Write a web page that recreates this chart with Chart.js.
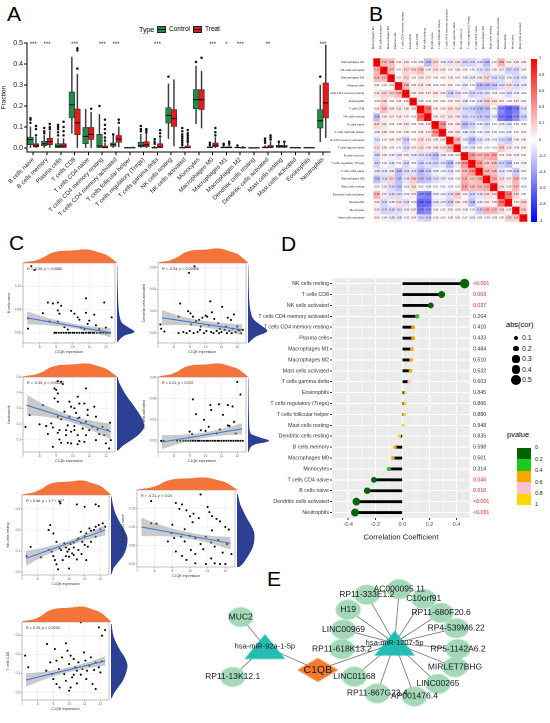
<!DOCTYPE html>
<html>
<head>
<meta charset="utf-8">
<script src="https://cdn.jsdelivr.net/npm/chart.js@4.4.1/dist/chart.umd.min.js"></script>
<style>
html,body{margin:0;padding:0;background:#fff;}
body{width:550px;height:723px;position:relative;overflow:hidden;font-family:"Liberation Sans",Arial,sans-serif;color:#000;}
canvas{position:absolute;}
.t{position:absolute;white-space:nowrap;line-height:1;}
.big{font-size:21px;}
</style>
</head>
<body>
<div class="t big" style="left:7px;top:3px">A</div>
<div class="t big" style="left:369px;top:3px">B</div>
<div class="t big" style="left:9px;top:232px">C</div>
<div class="t big" style="left:281px;top:233px">D</div>
<div class="t big" style="left:267px;top:568px">E</div>

<div class="t" style="left:139px;top:25.5px;font-size:7px">Type</div>
<div style="position:absolute;left:157px;top:25.5px;width:9px;height:7px;background:#228b45;border:0.6px solid #222;box-sizing:border-box"><div style="position:absolute;left:0;right:0;top:2.6px;height:1px;background:#111"></div></div>
<div class="t" style="left:169px;top:26px;font-size:6.5px">Control</div>
<div style="position:absolute;left:193px;top:25.5px;width:9px;height:7px;background:#e8191c;border:0.6px solid #222;box-sizing:border-box"><div style="position:absolute;left:0;right:0;top:2.6px;height:1px;background:#111"></div></div>
<div class="t" style="left:205px;top:26px;font-size:6.5px">Treat</div>

<div class="t" style="left:506px;top:321px;font-size:7.5px">abs(cor)</div>
<div class="t" style="left:507px;top:431px;font-size:7.5px">pvalue</div>
<div id="legD"></div>

<script>
// ---------------- DATA ----------------
// Panel A
const cellTypesA = ['B cells naive','B cells memory','Plasma cells','T cells CD8','T cells CD4 naive','T cells CD4 memory resting','T cells CD4 memory activated','T cells follicular helper','T cells regulatory (Tregs)','T cells gamma delta','NK cells resting','NK cells activated','Monocytes','Macrophages M0','Macrophages M1','Macrophages M2','Dendritic cells resting','Dendritic cells activated','Mast cells resting','Mast cells activated','Eosinophils','Neutrophils'];
// [min, q1, median, q3, max]
const controlStats = [
 [0,0.016,0.04,0.052,0.10],[0,0.011,0.02,0.032,0.06],[0,0,0.008,0.02,0.045],[0.07,0.143,0.206,0.267,0.433],
 [0,0.02,0.055,0.098,0.185],[0,0,0.01,0.065,0.16],[0,0.008,0.015,0.024,0.06],[0,0,0.001,0.002,0.004],
 [0,0.005,0.012,0.027,0.065],[0,0,0.001,0.003,0.008],[0.045,0.119,0.155,0.192,0.305],[0,0,0.001,0.003,0.008],
 [0.115,0.187,0.23,0.278,0.39],[0,0,0.003,0.006,0.012],[0,0,0.002,0.005,0.01],[0,0,0.002,0.004,0.008],
 [0,0,0,0.001,0.002],[0,0,0.002,0.005,0.012],[0,0.003,0.008,0.013,0.025],[0,0,0.001,0.002,0.004],
 [0,0,0.001,0.002,0.004],[0.03,0.095,0.13,0.183,0.30]
];
const treatStats = [
 [0,0.005,0.01,0.02,0.05],[0,0.016,0.03,0.046,0.08],[0,0.002,0.01,0.02,0.045],[0,0.063,0.12,0.186,0.35],
 [0,0.04,0.065,0.098,0.17],[0,0,0.002,0.01,0.025],[0.005,0.028,0.042,0.06,0.10],[0,0,0.001,0.002,0.005],
 [0,0.005,0.015,0.03,0.07],[0,0,0.005,0.02,0.045],[0.01,0.103,0.14,0.183,0.325],[0,0,0.002,0.01,0.025],
 [0.095,0.183,0.23,0.278,0.365],[0,0.005,0.013,0.024,0.05],[0,0,0.002,0.006,0.014],[0,0,0.001,0.004,0.008],
 [0,0,0,0.001,0.002],[0,0,0.004,0.012,0.03],[0,0.003,0.008,0.012,0.022],[0,0,0.001,0.002,0.004],
 [0,0,0.001,0.002,0.004],[0.05,0.143,0.215,0.31,0.49]
];
const controlOutliers = [
 [0.12,0.135,0.143],[0.07,0.08,0.095],[0.06,0.075,0.09,0.1,0.11],[],[],[0.2],[0.065],[],
 [0.08,0.09,0.105],[0.02,0.03,0.042],[0.34],[0.015,0.025,0.035,0.045,0.055,0.065,0.08,0.095],
 [0.41],[0.015,0.025],[0.015,0.02],[0.012],[],[0.025,0.035,0.045],[0.03],[],[],[0.34]
];
const treatOutliers = [
 [0.06,0.09,0.105],[0.09,0.1,0.115],[0.06,0.08,0.1,0.125],[0.378,0.465,0.475],[0.187],
 [0.035,0.05,0.07,0.09,0.11,0.135],[0.12,0.135],[],[0.075,0.085,0.09],[0.055,0.07,0.085],[],
 [0.03,0.04,0.05,0.06,0.07,0.085],[0.43],[0.06,0.075,0.095],[0.02,0.03],[],[],[0.04,0.05,0.06],[0.03],[],[],[]
];
const sigA = ['***','***','','***','','***','***','','','***','','','','***','*','***','','**','','','','***'];
const yTicksA = [0,0.1,0.2,0.3,0.4,0.5];

// Panel B
const immuneB = ['Macrophages M1','NK cells activated','Macrophages M2','Plasma cells','T cells CD4 memory resting','Eosinophils','T cells CD8','NK cells resting','B cells naive','T cells follicular helper','T cells CD4 memory activated','T cells gamma delta','B cells memory','T cells regulatory (Tregs)','T cells CD4 naive','Macrophages M0','Mast cells resting','Dendritic cells activated','Neutrophils','Monocytes','Mast cells activated'];
const corUpper = [
 [0.27,0.26,0.04,0.10,-0.03,0.06,-0.26,0.17,-0.06,-0.11,0.12,-0.16,-0.17,-0.08,-0.26,0.03,0.30,0.06,0.09,0.06],
 [0.27,0.01,0.17,0.16,0.26,0.06,0.11,0.08,0.02,0.06,0.05,0.02,-0.10,-0.13,0.05,0.07,-0.17,-0.17,0.04],
 [0.01,0.17,0.02,0.09,0.07,0.03,0.02,0.06,0.03,-0.05,-0.09,0.08,0.17,-0.13,-0.13,-0.05,-0.15,-0.08],
 [0.28,0.06,0.11,0.08,-0.02,0.03,0.07,0.01,-0.10,0.01,-0.26,-0.25,-0.22,-0.13,0.13,-0.13,-0.08],
 [0.06,0.08,0.07,0.10,0.06,-0.19,-0.13,0.05,-0.17,-0.13,-0.10,-0.03,-0.04,-0.13,-0.06,-0.02],
 [0.05,-0.01,0.03,0.02,0.03,0.07,-0.08,0.03,-0.11,0.20,0.13,0.07,-0.03,0.07,0.04],
 [0.55,0.06,0.06,0.15,0.13,-0.13,-0.18,-0.28,-0.25,0.02,-0.45,-0.60,-0.50,-0.13],
 [0.05,0.07,0.10,0.08,-0.15,-0.12,-0.20,-0.22,-0.06,-0.50,-0.58,-0.44,-0.18],
 [0.44,0.06,0.09,-0.26,-0.17,-0.05,-0.13,0.01,-0.06,-0.10,0.03,-0.02],
 [0.05,0.10,-0.08,-0.10,-0.03,-0.07,0.03,-0.04,-0.07,0.02,0.03],
 [0.28,-0.05,-0.28,-0.12,-0.06,-0.03,-0.13,-0.20,0.06,0.05],
 [-0.03,-0.08,0.03,-0.01,0.01,0.20,0.10,-0.04,0.05],
 [0.40,0.27,0.31,0.37,0.04,0.06,-0.05,0.02],
 [0.40,0.21,0.25,-0.17,-0.25,0.03,-0.05],
 [0.28,0.26,-0.10,-0.05,-0.20,0.04],
 [0.32,0.13,0.07,0.30,-0.03],
 [0.10,0.05,0.27,-0.03],
 [0.52,0.15,0.00],
 [0.04,0.18],
 [0.20]
];
const colorbarTicks = [1,0.8,0.6,0.4,0.2,0,-0.2,-0.4,-0.6,-0.8,-1];

// Panel C
const xTicksC = [7,8,9,10,11,12];
const bandX = [7.25,8.5,9.8,11.05,12.3];
const topDensX = [7.0,7.3,7.7,8.2,8.6,9.1,9.6,10.1,10.6,10.9,11.4,11.9,12.35,12.55];
const topDensD = [0,0.08,0.15,0.38,0.68,0.86,0.9,0.93,1.0,0.98,0.8,0.6,0.2,0];

const ptsBNaive = [[7.5,0.143],[7.7,0.135],[7.3,0.031],[7.3,0.009],[8.2,0.042],[8.5,0.065],[8.8,0.063],[9.1,0.065],[9.3,0.058],[9.1,0.048],[9.2,0.041],[8.6,0.024],[9.1,0.024],[9.9,0.047],[10.1,0.041],[10.3,0.033],[10.4,0.028],[10.8,0.074],[10.8,0.043],[11.0,0.026],[11.3,0.039],[11.4,0.016],[11.9,0.065],[12.0,0.011],[12.35,0.033],[9.7,0.007],[10.5,0.011],[10.7,0.007],[9.5,0.012],[10.9,0.019],[11.6,0.008],
 [8.9,0],[9.0,0],[9.15,0],[9.3,0],[9.45,0],[9.6,0],[9.75,0],[9.85,0],[10.0,0],[10.1,0],[10.25,0],[10.4,0],[10.55,0],[10.65,0],[10.8,0],[10.95,0],[11.05,0],[11.2,0],[11.3,0],[11.45,0],[11.6,0],[11.7,0],[11.85,0],[12.0,0],[12.1,0],[12.25,0]];
const fitBNaive = [[7.25,0.032],[12.3,0.0]];
const hiBNaive = [0.046,0.032,0.021,0.014,0.010];
const loBNaive = [0.018,0.016,0.011,0.002,-0.010];
const densBNaiveY = [-0.02,-0.005,0.002,0.01,0.02,0.035,0.05,0.07,0.09,0.12,0.145];
const densBNaiveD = [0,0.45,1.0,0.7,0.3,0.14,0.08,0.05,0.03,0.01,0];
const yTicksBNaive = [0,0.05,0.10];

const ptsDCAct = [[8.95,0.055],[9.3,0.061],[7.15,0.008],[7.2,0.004],[7.4,0.0015],[8.4,0.027],[8.3,0.015],[8.9,0.02],[9.05,0.018],[9.2,0.015],[9.4,0.011],[9.6,0.012],[9.8,0.014],[10.0,0.016],[10.1,0.015],[10.3,0.029],[10.4,0.019],[10.55,0.013],[10.8,0.009],[11.05,0.024],[11.4,0.014],[11.6,0.012],[11.8,0.017],[12.0,0.006],[12.15,0.0025],[12.35,0.003],[9.1,0.008],[9.7,0.006],[10.2,0.007],[10.9,0.004],[11.3,0.006],[11.7,0.004],
 [8.3,0],[8.6,0.001],[8.8,0],[9.0,0.002],[9.25,0],[9.5,0.001],[9.65,0.003],[9.9,0],[10.05,0.002],[10.35,0.001],[10.5,0],[10.7,0.002],[10.85,0],[11.0,0.001],[11.2,0.003],[11.35,0],[11.5,0.002],[11.65,0],[11.9,0.001],[12.05,0.003],[12.25,0]];
const fitDCAct = [[7.25,0.014],[12.3,0.003]];
const hiDCAct = [0.021,0.0153,0.0115,0.0093,0.008];
const loDCAct = [0.007,0.0073,0.0055,0.0023,-0.002];
const densDCActY = [-0.009,-0.003,0.002,0.006,0.012,0.02,0.03,0.045,0.062];
const densDCActD = [0,0.4,1.0,0.75,0.3,0.12,0.05,0.02,0];
const yTicksDCAct = [0,0.02,0.04,0.06];

const ptsNeut = [[8.9,0.427],[9.0,0.417],[9.1,0.474],[9.3,0.47],[9.4,0.455],[9.1,0.395],[8.9,0.363],[9.1,0.342],[8.7,0.203],[8.8,0.177],[9.1,0.246],[9.3,0.229],[9.2,0.16],[9.1,0.143],[9.2,0.10],[9.3,0.079],[8.8,0.053],[9.8,0.342],[9.9,0.31],[10.1,0.30],[9.8,0.246],[9.7,0.19],[9.9,0.15],[9.7,0.079],[9.9,0.075],[10.3,0.374],[10.4,0.33],[10.2,0.27],[10.4,0.24],[10.5,0.207],[10.1,0.16],[10.3,0.128],[10.4,0.09],[10.3,0.07],[10.8,0.427],[10.7,0.33],[10.9,0.29],[10.9,0.256],[10.8,0.214],[11.0,0.16],[10.8,0.128],[10.7,0.085],[11.3,0.31],[11.4,0.246],[11.2,0.182],[11.5,0.165],[11.6,0.135],[11.4,0.096],[11.8,0.182],[11.9,0.128],[12.0,0.075],[12.1,0.16],[12.2,0.043],[12.25,0.207],[12.3,0.096],[8.0,0.197],[8.2,0.32],[8.4,0.186],[8.5,0.135],[7.15,0.18],[7.4,0.256],[9.6,0.16],[10.6,0.17],[10.1,0.186],[10.3,0.235],[9.5,0.278],[9.6,0.128]];
const fitNeut = [[7.2,0.32],[12.3,0.15]];
const hiNeut = [0.385,0.313,0.257,0.223,0.2];
const loNeut = [0.255,0.243,0.213,0.163,0.1];
const densNeutY = [0.03,0.06,0.1,0.14,0.18,0.22,0.27,0.32,0.37,0.42,0.47,0.5];
const densNeutD = [0.03,0.2,0.55,0.85,1.0,0.97,0.8,0.6,0.38,0.2,0.06,0.01];
const yTicksNeut = [0.1,0.2,0.3,0.4,0.5];

const ptsNKAct = [[12.0,0.084],[12.2,0.066],[9.2,0.059],[9.4,0.038],[10.3,0.051],[10.35,0.044],[10.85,0.052],[11.4,0.051],[11.7,0.049],[11.1,0.037],[11.4,0.022],[11.5,0.021],[9.9,0.03],[10.2,0.02],[9.0,0.013],[9.15,0.0095],[9.7,0.015],[10.0,0.014],[10.7,0.0105],[10.9,0.016],[11.8,0.027],[11.9,0.0105],[7.2,0],[7.35,0],
 [8.2,0],[8.4,0],[8.6,0],[8.75,0],[8.9,0],[9.05,0],[9.2,0],[9.35,0],[9.5,0],[9.6,0],[9.75,0],[9.9,0],[10.05,0],[10.15,0],[10.3,0],[10.45,0],[10.6,0],[10.75,0],[10.85,0],[11.0,0],[11.15,0],[11.3,0],[11.45,0],[11.6,0],[11.75,0],[11.9,0],[12.05,0],[12.2,0],[12.35,0]];
const fitNKAct = [[7.2,-0.002],[12.3,0.017]];
const hiNKAct = [0.008,0.0088,0.0115,0.0173,0.025];
const loNKAct = [-0.012,-0.0032,0.0035,0.0073,0.009];
const densNKActY = [-0.016,-0.005,0.0,0.004,0.01,0.02,0.035,0.05,0.07,0.09];
const densNKActD = [0,0.3,1.0,0.6,0.12,0.05,0.03,0.02,0.01,0];
const yTicksNKAct = [0,0.03,0.06,0.09];

const ptsNKRest = [[9.4,0.335],[9.45,0.327],[10.5,0.322],[11.7,0.322],[11.9,0.314],[11.0,0.311],[7.3,0.076],[7.55,0.12],[8.2,0.07],[8.7,0.2],[8.8,0.224],[9.0,0.184],[9.0,0.076],[9.1,0.057],[9.2,0.037],[9.3,0.013],[9.2,0.144],[9.4,0.113],[9.5,0.105],[9.7,0.137],[9.8,0.117],[9.9,0.097],[10.0,0.108],[10.1,0.133],[10.3,0.14],[10.3,0.117],[10.5,0.152],[10.6,0.16],[10.3,0.081],[10.5,0.06],[10.0,0.017],[10.75,0.192],[10.85,0.144],[11.0,0.171],[11.1,0.184],[11.2,0.121],[11.1,0.057],[11.3,0.208],[11.4,0.197],[11.6,0.2],[11.7,0.216],[11.9,0.224],[12.0,0.203],[12.15,0.232],[12.3,0.216],[10.0,0.073],[9.6,0.057],[8.9,0.097],[10.6,0.105],[10.8,0.086],[11.4,0.144],[11.7,0.168],[8.7,0.105],[9.8,0.076],[10.2,0.089],[11.0,0.129]];
const fitNKRest = [[7.25,0.065],[12.3,0.20]];
const hiNKRest = [0.1,0.119,0.145,0.181,0.225];
const loNKRest = [0.03,0.079,0.119,0.151,0.175];
const densNKRestY = [-0.01,0.02,0.05,0.08,0.12,0.16,0.2,0.24,0.28,0.32,0.36];
const densNKRestD = [0.02,0.15,0.45,0.75,0.95,1.0,0.8,0.5,0.25,0.1,0.01];
const yTicksNKRest = [0,0.1,0.2,0.3];

const ptsCD4Naive = [[7.8,0.17],[10.6,0.188],[8.1,0.109],[9.0,0.106],[9.2,0.165],[9.4,0.149],[9.55,0.161],[9.8,0.145],[10.0,0.129],[10.2,0.136],[10.5,0.124],[11.0,0.154],[11.1,0.14],[11.25,0.129],[11.5,0.122],[11.7,0.115],[12.0,0.1],[12.2,0.093],[8.95,0.084],[9.1,0.07],[9.5,0.074],[9.7,0.061],[10.0,0.076],[10.3,0.07],[10.6,0.054],[10.9,0.074],[11.2,0.058],[11.4,0.047],[11.6,0.065],[11.85,0.031],[12.1,0.054],[12.35,0.027],[9.2,0.034],[9.55,0.022],[9.8,0.011],[10.05,0.038],[10.3,0.002],[10.9,0],[11.2,0.015],[11.4,0.002],[11.7,0],[12.0,0],[7.8,0.11],[8.75,0.061],[10.3,0.027],[10.75,0.04],[11.25,0.091],[9.7,0.094],[10.15,0.113]];
const fitCD4Naive = [[7.25,0.10],[12.3,0.056]];
const hiCD4Naive = [0.125,0.103,0.087,0.077,0.073];
const loCD4Naive = [0.075,0.075,0.069,0.057,0.039];
const densCD4NaiveY = [-0.008,0.0,0.02,0.04,0.06,0.08,0.1,0.12,0.14,0.16,0.19];
const densCD4NaiveD = [0.1,0.3,0.6,0.85,0.98,1.0,0.85,0.6,0.38,0.18,0.02];
const yTicksCD4Naive = [0,0.05,0.10,0.15];

const ptsCD8 = [[10.75,0.368],[11.9,0.342],[12.3,0.328],[12.1,0.298],[7.2,0.193],[7.4,0.132],[8.6,0.254],[8.8,0.158],[9.1,0.228],[9.2,0.167],[9.8,0.258],[9.9,0.219],[10.1,0.193],[10.0,0.149],[10.3,0.175],[10.4,0.132],[10.5,0.114],[10.6,0.158],[10.95,0.21],[11.05,0.167],[11.3,0.14],[11.4,0.184],[11.6,0.118],[11.7,0.158],[11.9,0.132],[12.0,0.105],[12.1,0.163],[8.9,0.096],[9.0,0.07],[9.2,0.044],[9.4,0.026],[9.7,0.096],[9.8,0.061],[10.0,0.009],[10.2,0.079],[10.5,0.047],[10.75,0.093],[11.1,0.07],[11.5,0.044],[11.7,0.018],[9.35,0.123],[9.55,0.184],[10.85,0.123],[11.15,0.114],[10.3,0.093],[8.55,0.114],[10.1,0.026]];
const fitCD8 = [[7.25,0.065],[12.3,0.165]];
const hiCD8 = [0.1,0.11,0.128,0.155,0.19];
const loCD8 = [0.03,0.07,0.102,0.125,0.14];
const densCD8Y = [-0.03,0.0,0.03,0.06,0.1,0.14,0.18,0.22,0.26,0.3,0.36];
const densCD8D = [0.02,0.2,0.45,0.7,0.9,1.0,0.85,0.55,0.3,0.12,0.02];
const yTicksCD8 = [0,0.1,0.2,0.3];

// Panel D
const cellsD = ['NK cells resting','T cells CD8','NK cells activated','T cells CD4 memory activated','T cells CD4 memory resting','Plasma cells','Macrophages M1','Macrophages M2','Mast cells activated','T cells gamma delta','Eosinophils','T cells regulatory (Tregs)','T cells follicular helper','Mast cells resting','Dendritic cells resting','B cells memory','Macrophages M0','Monocytes','T cells CD4 naive','B cells naive','Dendritic cells activated','Neutrophils'];
const corD = [0.46,0.29,0.21,0.11,0.08,0.08,0.07,0.065,0.06,0.05,0.02,0.017,0.015,0.006,-0.02,-0.055,-0.07,-0.10,-0.21,-0.26,-0.34,-0.35];
const pNumD = [0.0005,0.003,0.037,0.264,0.410,0.433,0.484,0.510,0.532,0.603,0.845,0.866,0.880,0.948,0.835,0.598,0.501,0.314,0.040,0.010,0.0005,0.0005];
const pLabelsD = ['<0.001','0.003','0.037','0.264','0.410','0.433','0.484','0.510','0.532','0.603','0.845','0.866','0.880','0.948','0.835','0.598','0.501','0.314','0.040','0.010','<0.001','<0.001'];
const xTicksD = [-0.4,-0.2,0,0.2,0.4];
const xMinorD = [-0.5,-0.3,-0.1,0.1,0.3,0.5];
const sizeLegendD = [0.1,0.2,0.3,0.4,0.5];
const pBreaksD = [0,0.2,0.4,0.6,0.8,1];
const pColorsD = ['#006400','#1ec81e','#ffa500','#ffc0cb','#ffd700'];

// Panel E
const netNodes = ['MUC2','hsa-miR-92a-1-5p','RP11-13K12.1','C1QB','hsa-miR-1207-5p','AC000095.11','RP11-333E1.2','C10orf91','H19','RP11-680F20.6','LINC00969','RP4-539M6.22','RP11-618K13.2','RP5-1142A6.2','MIRLET7BHG','LINC01168','LINC00265','RP11-867G23.4','AP001476.4'];
const netKind = ['lnc','mir','lnc','gene','mir','lnc','lnc','lnc','lnc','lnc','lnc','lnc','lnc','lnc','lnc','lnc','lnc','lnc','lnc'];
const netX = [46,72,37.3,129,211.7,216.7,181.7,243,161.7,261.7,156.7,278,155,280,276.7,168.3,258.3,193,233];
const netY = [46.7,82,118.3,110,78,13.3,20,25,38,41.7,61.7,60,85,85,106.7,118,126.7,138,141.7];
const netEdges = [[0,1],[2,1],[1,3],[3,4],[4,5],[4,6],[4,7],[4,8],[4,9],[4,10],[4,11],[4,12],[4,13],[4,14],[4,15],[4,16],[4,17],[4,18]];

// ---------------- SETUP ----------------
const FF = '"Liberation Sans", Arial, sans-serif';
Chart.defaults.font.family = FF;
Chart.defaults.color = '#333';
Chart.defaults.animation = false;
Chart.defaults.responsive = false;
Chart.defaults.devicePixelRatio = 2;
Chart.defaults.events = [];
Chart.defaults.plugins.legend.display = false;
Chart.defaults.plugins.tooltip.enabled = false;

function mk(l, t, w, h) {
  const c = document.createElement('canvas');
  w = Math.round(w); h = Math.round(h);
  c.width = w; c.height = h;
  c.style.left = l + 'px'; c.style.top = t + 'px';
  c.style.width = w + 'px'; c.style.height = h + 'px';
  document.body.appendChild(c);
  return c;
}
function fixedTicks(arr) { return s => { s.ticks = arr.map(v => ({value: v})); }; }

// ---------------- PANEL A ----------------
function boxSets(stats, outs, off, color) {
  return [
    {type:'bar', data: stats.map((s,i)=>({x:i+off, y:[s[0],s[4]]})), backgroundColor:'#3a3a3a', barThickness:0.8, grouped:false, order:3},
    {type:'bar', data: stats.map((s,i)=>({x:i+off, y:[s[1],s[3]]})), backgroundColor:color, borderColor:'#2a2a2a', borderWidth:0.6, borderSkipped:false, barThickness:5.6, grouped:false, order:2},
    {type:'scatter', data: stats.map((s,i)=>({x:i+off, y:s[2]})), pointStyle:'line', pointRadius:2.8, borderColor:'#111', borderWidth:1.1, order:1},
    {type:'scatter', data: outs.flatMap((o,i)=>o.map(v=>({x:i+off, y:v}))), pointRadius:1.25, backgroundColor:'#111', borderWidth:0, order:0}
  ];
}
new Chart(mk(0, 36, 335, 182), {
  type: 'bar',
  data: {datasets: [...boxSets(controlStats, controlOutliers, -0.2, '#228b45'), ...boxSets(treatStats, treatOutliers, 0.2, '#e8191c')]},
  options: {
    layout: {padding: {top: 7, right: 5, left: 0, bottom: 0}},
    scales: {
      x: {type:'linear', min:-0.45, max:21.5, offset:false,
          afterBuildTicks: fixedTicks(cellTypesA.map((_, i) => i)),
          ticks: {autoSkip:false, minRotation:45, maxRotation:45, font:{size:6}, color:'#222', padding:1, callback: v => cellTypesA[Math.round(v)]},
          grid: {offset:false, drawOnChartArea:false, drawTicks:true, tickLength:3, color:'#000'},
          border: {display:true, color:'#000', width:1},
          afterFit: s => { s.height = 65.8; }},
      y: {type:'linear', min:-0.02, max:0.5,
          afterBuildTicks: fixedTicks(yTicksA),
          ticks: {font:{size:7}, color:'#222', padding:1, callback: v => v.toFixed(1)},
          grid: {drawOnChartArea:false, drawTicks:true, tickLength:3, color:'#000'},
          border: {display:true, color:'#000', width:1},
          title: {display:true, text:'Fraction', font:{size:6.5}, color:'#111', padding:0},
          afterFit: s => { s.width = 27; }}
    }
  },
  plugins: [{id:'stars', afterDatasetsDraw(c) {
    const ctx = c.ctx, xs = c.scales.x, ys = c.scales.y;
    ctx.save(); ctx.fillStyle = '#222'; ctx.font = '6px ' + FF; ctx.textAlign = 'center'; ctx.textBaseline = 'middle';
    sigA.forEach((s, i) => { if (s) ctx.fillText(s, xs.getPixelForValue(i), ys.getPixelForValue(0.5) + 1.5); });
    ctx.restore();
  }}]
});

// ---------------- PANEL B ----------------
const corM = immuneB.map((_, i) => immuneB.map((_, j) => i === j ? 1 : (i < j ? corUpper[i][j - i - 1] : corUpper[j][i - j - 1])));
function corColor(v) {
  if (v >= 0) { const g = Math.round(255 * (1 - v)); return `rgb(255,${g},${g})`; }
  const g = Math.round(255 * (1 + v)); return `rgb(${g},${g},255)`;
}
new Chart(mk(330, 0, 200, 225), {
  type: 'bar',
  data: {labels: immuneB, datasets: immuneB.map((_, r) => ({
    data: immuneB.map(() => [r, r + 1]), backgroundColor: corM[r].map(corColor),
    barPercentage: 1, categoryPercentage: 1, grouped: false, borderWidth: 0, inflateAmount: 0.5
  }))},
  options: {
    layout: {padding: {top: 0, right: 2.7, bottom: 3.3, left: 0}},
    scales: {
      x: {type:'category', position:'top', offset:true, grid:{display:false}, border:{display:false},
          ticks:{font:{size:3}, color:'#222', autoSkip:false, minRotation:90, maxRotation:90, padding:1},
          afterFit: s => { s.height = 58.3; }},
      y: {type:'linear', min:0, max:immuneB.length, reverse:true,
          afterBuildTicks: fixedTicks(immuneB.map((_, i) => i + 0.5)),
          ticks:{font:{size:3}, color:'#222', autoSkip:false, padding:1, callback: (v, i) => immuneB[i]},
          grid:{display:false}, border:{display:false},
          afterFit: s => { s.width = 43.3; }}
    }
  },
  plugins: [{id:'cellText', afterDatasetsDraw(c) {
    const ctx = c.ctx; ctx.save(); ctx.fillStyle = '#222'; ctx.font = '2.5px ' + FF; ctx.textAlign = 'center'; ctx.textBaseline = 'middle';
    c.data.datasets.forEach((ds, r) => c.getDatasetMeta(r).data.forEach((el, col) => ctx.fillText(corM[r][col].toFixed(2), el.x, (el.y + el.base) / 2)));
    ctx.restore();
  }}]
});
(function colorbar() {
  const top = 59.3, h = 162.4;
  const bar = document.createElement('div');
  bar.style.cssText = `position:absolute;left:530.7px;top:${top}px;width:6px;height:${h}px;background:linear-gradient(to bottom,#ff0000,#ffffff,#0000ff)`;
  document.body.appendChild(bar);
  colorbarTicks.forEach((v, i) => {
    const d = document.createElement('div'); d.className = 't';
    d.style.cssText += `left:539px;top:${top + i * h / (colorbarTicks.length - 1) - 2}px;font-size:3.8px;color:#222`;
    d.textContent = String(v); document.body.appendChild(d);
  });
})();

// ---------------- PANEL C ----------------
const cPanels = [
  {pts:ptsBNaive, fit:fitBNaive, hi:hiBNaive, lo:loBNaive, dy:densBNaiveY, dd:densBNaiveD, yTicks:yTicksBNaive, dec:2, yMin:-0.022, yMax:0.15, yLabel:'B cells naive', stat:'R = -0.26, p = 0.0065', g:{L:23,T:263,R:117,B:343,th:14,rw:18}},
  {pts:ptsDCAct, fit:fitDCAct, hi:hiDCAct, lo:loDCAct, dy:densDCActY, dd:densDCActD, yTicks:yTicksDCAct, dec:2, yMin:-0.009, yMax:0.064, yLabel:'Dendritic cells activated', stat:'R = -0.34, p = 0.00056', g:{L:158,T:263,R:248,B:343,th:15,rw:20}},
  {pts:ptsNeut, fit:fitNeut, hi:hiNeut, lo:loNeut, dy:densNeutY, dd:densNeutD, yTicks:yTicksNeut, dec:1, yMin:0.02, yMax:0.5, yLabel:'Neutrophils', stat:'R = -0.35, p = 0.00037', g:{L:23,T:377,R:117,B:452,th:14,rw:28}},
  {pts:ptsNKAct, fit:fitNKAct, hi:hiNKAct, lo:loNKAct, dy:densNKActY, dd:densNKActD, yTicks:yTicksNKAct, dec:2, yMin:-0.016, yMax:0.091, yLabel:'NK cells activated', stat:'R = 0.21, p = 0.037', g:{L:158,T:377,R:248,B:452,th:14,rw:22}},
  {pts:ptsNKRest, fit:fitNKRest, hi:hiNKRest, lo:loNKRest, dy:densNKRestY, dd:densNKRestD, yTicks:yTicksNKRest, dec:1, yMin:-0.014, yMax:0.367, yLabel:'NK cells resting', stat:'R = 0.46, p = 1.7 × 10⁻⁶', g:{L:22,T:495,R:111,B:575,th:15,rw:17}},
  {pts:ptsCD4Naive, fit:fitCD4Naive, hi:hiCD4Naive, lo:loCD4Naive, dy:densCD4NaiveY, dd:densCD4NaiveD, yTicks:yTicksCD4Naive, dec:2, yMin:-0.008, yMax:0.2, yLabel:'T cells CD4 naive', stat:'R = -0.21, p = 0.04', g:{L:137,T:490,R:237,B:567,th:13,rw:18}},
  {pts:ptsCD8, fit:fitCD8, hi:hiCD8, lo:loCD8, dy:densCD8Y, dd:densCD8D, yTicks:yTicksCD8, dec:1, yMin:-0.04, yMax:0.37, yLabel:'T cells CD8', stat:'R = 0.29, p = 0.0035', g:{L:22,T:622,R:111,B:700,th:16,rw:17}}
];
const CLEAR = 'rgba(0,0,0,0)';
function scatterPanel(p) {
  const g = p.g, yw = 16, xh = 11, pt = 4, pr = 2;
  const gridC = {color:'#ebebeb', lineWidth:0.5, tickLength:1.5, tickColor:'#777'};
  new Chart(mk(g.L - yw, g.T - pt, yw + (g.R - g.L) + pr, pt + (g.B - g.T) + xh), {
    type: 'scatter',
    data: {datasets: [
      {data: p.pts.map(q => ({x:q[0], y:q[1]})), pointRadius:1.05, backgroundColor:'#000', borderWidth:0, order:2},
      {type:'line', data: bandX.map((x, i) => ({x, y:p.hi[i]})), borderColor:CLEAR, borderWidth:0.1, pointRadius:0, fill:'+1', backgroundColor:'rgba(150,150,150,0.5)', tension:0.4, order:1},
      {type:'line', data: bandX.map((x, i) => ({x, y:p.lo[i]})), borderColor:CLEAR, borderWidth:0.1, pointRadius:0, fill:false, tension:0.4, order:1},
      {type:'line', data: p.fit.map(q => ({x:q[0], y:q[1]})), borderColor:'#3b70e0', borderWidth:1, pointRadius:0, fill:false, order:0}
    ]},
    options: {
      layout: {padding: {top:pt, right:pr, left:0, bottom:0}},
      scales: {
        x: {type:'linear', min:7, max:12.55, afterBuildTicks: fixedTicks(xTicksC),
            ticks:{font:{size:3.2}, color:'#555', padding:0.5, maxRotation:0, autoSkip:false},
            grid: gridC, border:{display:false},
            title:{display:true, text:'C1QB expression', font:{size:3.6}, color:'#333', padding:0},
            afterFit: s => { s.height = xh; }},
        y: {type:'linear', min:p.yMin, max:p.yMax, afterBuildTicks: fixedTicks(p.yTicks),
            ticks:{font:{size:3.2}, color:'#555', padding:0.5, autoSkip:false, callback: v => v.toFixed(p.dec)},
            grid: gridC, border:{display:false},
            title:{display:true, text:p.yLabel, font:{size:3.6}, color:'#333', padding:0},
            afterFit: s => { s.width = yw; }}
      }
    },
    plugins: [{id:'frame', afterDatasetsDraw(c) {
      const a = c.chartArea, ctx = c.ctx; ctx.save();
      ctx.strokeStyle = '#9a9a9a'; ctx.lineWidth = 0.6; ctx.strokeRect(a.left, a.top, a.right - a.left, a.bottom - a.top);
      ctx.fillStyle = '#222'; ctx.font = '3.7px ' + FF; ctx.textBaseline = 'top'; ctx.fillText(p.stat, a.left + 4, a.top + 4);
      ctx.restore();
    }}]
  });
  // top marginal density (C1QB expression)
  new Chart(mk(g.L, g.T - g.th, g.R - g.L, g.th), {
    type: 'line',
    data: {datasets: [{data: topDensX.map((x, i) => ({x, y:topDensD[i]})), borderColor:'#f2703a', borderWidth:0.6, backgroundColor:'#f4743b', fill:'origin', pointRadius:0, cubicInterpolationMode:'monotone'}]},
    options: {layout:{padding:0}, scales:{x:{type:'linear', min:7, max:12.55, display:false}, y:{type:'linear', min:0, max:1.05, display:false}}}
  });
  // right marginal density (immune cell fraction)
  new Chart(mk(g.R, g.T, g.rw, g.B - g.T), {
    type: 'line',
    data: {datasets: [{data: p.dy.map((y, i) => ({x:p.dd[i], y})), borderColor:'#263a8c', borderWidth:0.6, backgroundColor:'#2b3f93', fill:'origin', pointRadius:0, cubicInterpolationMode:'monotone'}]},
    options: {indexAxis:'y', layout:{padding:0}, scales:{x:{type:'linear', min:0, max:1.05, display:false}, y:{type:'linear', min:p.yMin, max:p.yMax, display:false}}}
  });
}
cPanels.forEach(scatterPanel);

// ---------------- PANEL D ----------------
function pColor(p) { for (let k = 0; k < pColorsD.length; k++) { if (p < pBreaksD[k + 1] || k === pColorsD.length - 1) return pColorsD[k]; } }
function dotR(c) { return 1.4 + 7.2 * Math.abs(c); }
new Chart(mk(250, 272, 252, 270), {
  type: 'bar',
  data: {labels: cellsD, datasets: [
    {data: corD.map(c => [0, c]), backgroundColor:'#000', barThickness:2.2, order:2},
    {type:'scatter', data: corD.map((c, i) => ({x:c, y:cellsD[i]})), pointRadius: corD.map(dotR), backgroundColor: pNumD.map(pColor), borderWidth:0, order:1}
  ]},
  options: {
    indexAxis: 'y',
    layout: {padding: {top:5, right:0, left:0, bottom:0}},
    scales: {
      x: {type:'linear', min:-0.52, max:0.5, afterBuildTicks: fixedTicks([...xTicksD, ...xMinorD].sort((a, b) => a - b)),
          ticks:{font:{size:5.5}, color:'#4d4d4d', padding:1, autoSkip:false, maxRotation:0, callback: v => xTicksD.includes(v) ? v.toFixed(1) : ''},
          grid:{color:'#ffffff', lineWidth: c => (c.tick && xTicksD.includes(c.tick.value)) ? 1 : 0.5, tickLength:2, tickColor: c => (c.tick && xTicksD.includes(c.tick.value)) ? '#333' : CLEAR},
          border:{display:false},
          title:{display:true, text:'Correlation Coefficient', font:{size:7.6}, color:'#222', padding:{top:1, bottom:0}},
          afterFit: s => { s.height = 24; }},
      y: {type:'category', labels: cellsD, offset:true,
          grid:{color:'#ffffff', lineWidth:1, offset:false, tickLength:2, tickColor:'#333'}, border:{display:false},
          ticks:{font:{size:5.3}, color:'#333', autoSkip:false, padding:1},
          afterFit: s => { s.width = 82; }},
      y2: {type:'category', axis:'y', position:'right', labels: pLabelsD, offset:true,
          grid:{display:false, drawTicks:false}, border:{display:false},
          ticks:{font:{size:5.3}, color: c => pNumD[c.index] < 0.05 ? '#e8191c' : '#333', autoSkip:false, padding:3},
          afterFit: s => { s.width = 32; }}
    }
  },
  plugins: [{id:'panelBg', beforeDraw(c) {
    const a = c.chartArea, ctx = c.ctx; ctx.save(); ctx.fillStyle = '#ebebeb'; ctx.fillRect(a.left, a.top, a.right - a.left, a.bottom - a.top); ctx.restore();
  }}]
});
(function legendD() {
  const host = document.getElementById('legD');
  sizeLegendD.forEach((v, k) => {
    const yc = 338 + k * 10.5, r = dotR(v);
    const dot = document.createElement('div');
    dot.style.cssText = `position:absolute;left:${516 - r}px;top:${yc - r}px;width:${2 * r}px;height:${2 * r}px;border-radius:50%;background:#000`;
    host.appendChild(dot);
    const t = document.createElement('div'); t.className = 't';
    t.style.cssText += `left:522px;top:${yc - 3.6}px;font-size:7px;color:#222`; t.textContent = String(v); host.appendChild(t);
  });
  const bh = 11.4;
  pColorsD.forEach((col, k) => {
    const b = document.createElement('div');
    b.style.cssText = `position:absolute;left:517px;top:${448 + k * bh}px;width:14px;height:${bh}px;background:${col}`;
    host.appendChild(b);
  });
  pBreaksD.forEach((v, k) => {
    const t = document.createElement('div'); t.className = 't';
    t.style.cssText += `left:535px;top:${448 + k * bh - 2.6}px;font-size:5.5px;color:#222`; t.textContent = String(v); host.appendChild(t);
  });
})();

// ---------------- PANEL E ----------------
function shapeCanvas(w, h, draw) { const c = document.createElement('canvas'); c.width = w; c.height = h; draw(c.getContext('2d'), w, h); return c; }
const shapeImg = {
  lnc: shapeCanvas(26, 21, (x, w, h) => { x.fillStyle = '#a3d9b8'; x.beginPath(); x.ellipse(w / 2, h / 2, w / 2 - 0.5, h / 2 - 0.5, 0, 0, 2 * Math.PI); x.fill(); }),
  mir: shapeCanvas(42, 26, (x, w, h) => { x.fillStyle = '#25bdb2'; x.beginPath(); x.moveTo(w / 2, 0.5); x.lineTo(w - 0.5, h - 0.5); x.lineTo(0.5, h - 0.5); x.closePath(); x.fill(); }),
  gene: shapeCanvas(42, 25, (x, w, h) => { x.fillStyle = '#f27a2c'; x.beginPath(); x.moveTo(w / 2, 0.5); x.lineTo(w - 0.5, h / 2); x.lineTo(w / 2, h - 0.5); x.lineTo(0.5, h / 2); x.closePath(); x.fill(); })
};
new Chart(mk(185, 565, 365, 158), {
  type: 'scatter',
  data: {datasets: [
    ...netEdges.map(e => ({type:'line', data:[{x:netX[e[0]], y:netY[e[0]]}, {x:netX[e[1]], y:netY[e[1]]}], borderColor:'#7f7f7f', borderWidth:0.9, pointRadius:0, fill:false, order:2, clip:false})),
    {data: netNodes.map((n, i) => ({x:netX[i], y:netY[i]})), pointStyle: netKind.map(k => shapeImg[k]), pointRadius:12, order:1, clip:false}
  ]},
  options: {layout:{padding:0}, scales:{x:{type:'linear', min:0, max:365, display:false}, y:{type:'linear', min:0, max:158, reverse:true, display:false}}},
  plugins: [{id:'nodeLabels', afterDatasetsDraw(c) {
    const meta = c.getDatasetMeta(c.data.datasets.length - 1), ctx = c.ctx;
    ctx.save(); ctx.textAlign = 'center'; ctx.textBaseline = 'middle'; ctx.fillStyle = '#1a1a1a';
    meta.data.forEach((el, i) => {
      const k = netKind[i];
      ctx.font = (k === 'gene' ? '10.5px ' : k === 'mir' ? '7.5px ' : '8.5px ') + FF;
      ctx.fillText(netNodes[i], el.x, el.y);
    });
    ctx.restore();
  }}]
});
</script>
</body>
</html>
